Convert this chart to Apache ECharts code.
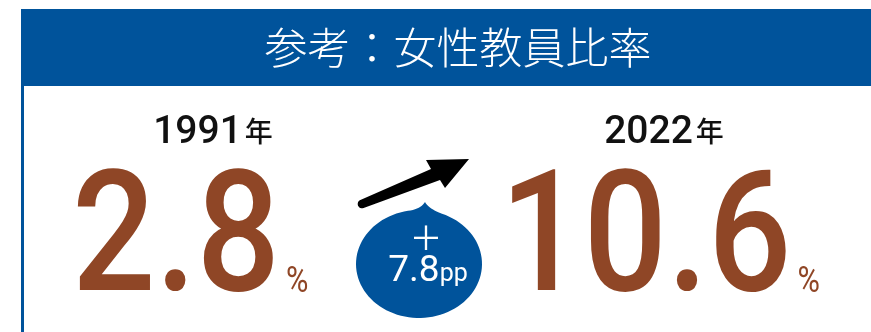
<!DOCTYPE html>
<html>
<head>
<meta charset="utf-8">
<script src="https://cdn.jsdelivr.net/npm/echarts@6/dist/echarts.min.js"></script>
<style>
  html, body { margin: 0; padding: 0; background: #ffffff; }
  #chart { width: 871px; height: 332px; }
</style>
</head>
<body>
<div id="chart"></div>
<script>
// Female teaching staff ratio, two reference years
const titleText = '参考：女性教員比率';
const years = ['1991', '2022'];
const yearSuffix = '年';
const ratios = [2.8, 10.6];
const ratioUnit = '%';
const changeUnit = 'pp';

const BLUE = '#00539B';
const BROWN = '#8F4626';
const INK = '#111111';
const NUM_FONT = 'Roboto, "Noto Sans", sans-serif';
const JP_FONT = '"Noto Sans CJK JP", "Noto Sans CJK SC", sans-serif';

const measureCtx = document.createElement('canvas').getContext('2d');
function textWidth(str, size, family, weight) {
  measureCtx.font = (weight || 'normal') + ' ' + size + 'px ' + family;
  return measureCtx.measureText(str).width;
}

// column layout
const colYearCenter = [213, 664];
const colNumLeft = [72, 500];
const numSize = 169, numScaleX = 0.87, numBaseline = 292;
const pctSize = 36;
const yearSize = 39, suffixSize = 28, yearBaseline = 143;

// distance from the 'middle' line down to the baseline, in em
const K_NUM = 0.26, K_JP = 0.436;
const midFromBaseline = (base, size, k) => base - k * size;

const elements = [];

// header banner
elements.push({ type: 'rect', shape: { x: 21, y: 9, width: 850, height: 77 }, style: { fill: BLUE } });
elements.push({ type: 'rect', shape: { x: 21, y: 86, width: 3, height: 246 }, style: { fill: BLUE } });
elements.push({
  type: 'text', x: 458, y: 48,
  style: { text: titleText, fill: '#ffffff', fontSize: 43, fontFamily: JP_FONT, fontWeight: 300,
           align: 'center', verticalAlign: 'middle' }
});

// year headings and ratio figures
years.forEach((yr, i) => {
  const yw = textWidth(yr, yearSize, NUM_FONT, 500);
  const sw = textWidth(yearSuffix, suffixSize, JP_FONT, 500);
  const gap = 3;
  const left = colYearCenter[i] - (yw + gap + sw) / 2;
  elements.push({
    type: 'text', x: left, y: midFromBaseline(yearBaseline, yearSize, K_NUM),
    style: { text: yr, fill: INK, fontSize: yearSize, fontFamily: NUM_FONT, fontWeight: 500,
             align: 'left', verticalAlign: 'middle' }
  });
  elements.push({
    type: 'text', x: left + yw + gap, y: midFromBaseline(yearBaseline + 1, suffixSize, K_JP),
    style: { text: yearSuffix, fill: INK, fontSize: suffixSize, fontFamily: JP_FONT, fontWeight: 500,
             align: 'left', verticalAlign: 'middle' }
  });

  const numStr = ratios[i].toFixed(1);
  const nw = textWidth(numStr, numSize, NUM_FONT, 500) * numScaleX;
  elements.push({
    type: 'text', x: colNumLeft[i], y: midFromBaseline(numBaseline, numSize, K_NUM), scaleX: numScaleX,
    style: { text: numStr, fill: BROWN, fontSize: numSize, fontFamily: NUM_FONT, fontWeight: 500,
             align: 'left', verticalAlign: 'middle' }
  });
  elements.push({
    type: 'text', x: colNumLeft[i] + nw + 6, y: midFromBaseline(numBaseline, pctSize, K_NUM),
    scaleX: 0.85,
    style: { text: ratioUnit, fill: BROWN, fontSize: pctSize, fontFamily: NUM_FONT, fontWeight: 400,
             align: 'left', verticalAlign: 'middle' }
  });
});

// rising arrow: rounded tail, tapered shaft, triangular head
const arrowPts = [];
const tail = [362, 204], tailR = 4.3;
const dirAng = Math.atan2(160 - 204, 469 - 362);
for (let k = 0; k <= 12; k++) {
  const a = dirAng + Math.PI / 2 + (Math.PI * k) / 12;
  arrowPts.push([tail[0] + tailR * Math.cos(a), tail[1] + tailR * Math.sin(a)]);
}
arrowPts.push([431, 169], [426, 160], [469, 159], [445, 188], [440, 180]);
elements.push({ type: 'polygon', shape: { points: arrowPts }, style: { fill: '#000000' } });

// change bubble: ellipse with a small pointed top
const bcx = 419, bcy = 264, brx = 63, bry = 54;
const tip = [425, 202];
const bubblePts = [];
const xL = 408, xR = 442;
const yAt = x => bcy - bry * Math.sqrt(1 - Math.pow((x - bcx) / brx, 2));
const a0 = Math.atan2((yAt(xR) - bcy) / bry, (xR - bcx) / brx);
const a1 = Math.atan2((yAt(xL) - bcy) / bry, (xL - bcx) / brx) + Math.PI * 2;
const steps = 90;
for (let k = 0; k <= steps; k++) {
  const t = a0 + (a1 - a0) * k / steps;
  bubblePts.push([bcx + brx * Math.cos(t), bcy + bry * Math.sin(t)]);
}
const quad = (p0, c, p1, n) => {
  const out = [];
  for (let k = 1; k <= n; k++) {
    const t = k / n;
    out.push([(1 - t) * (1 - t) * p0[0] + 2 * (1 - t) * t * c[0] + t * t * p1[0],
              (1 - t) * (1 - t) * p0[1] + 2 * (1 - t) * t * c[1] + t * t * p1[1]]);
  }
  return out;
};
bubblePts.push(...quad([xL, yAt(xL)], [421, 209], tip, 10));
bubblePts.push(...quad(tip, [429, 209], [xR, yAt(xR)], 10));
elements.push({ type: 'polygon', shape: { points: bubblePts }, style: { fill: BLUE } });

const change = (ratios[1] - ratios[0]).toFixed(1);
elements.push({
  type: 'text', x: 426, y: 237,
  style: { text: '＋', fill: '#ffffff', fontSize: 33, fontFamily: JP_FONT, fontWeight: 400,
           align: 'center', verticalAlign: 'middle' }
});
const cSize = 37, uSize = 25;
const cw = textWidth(change, cSize, NUM_FONT, 400);
const uw = textWidth(changeUnit, uSize, NUM_FONT, 400);
const cLeft = 428 - (cw + uw) / 2;
elements.push({
  type: 'text', x: cLeft, y: midFromBaseline(281, cSize, K_NUM),
  style: { text: change, fill: '#ffffff', fontSize: cSize, fontFamily: NUM_FONT, fontWeight: 400,
           align: 'left', verticalAlign: 'middle' }
});
elements.push({
  type: 'text', x: cLeft + cw, y: midFromBaseline(281, uSize, K_NUM),
  style: { text: changeUnit, fill: '#ffffff', fontSize: uSize, fontFamily: NUM_FONT, fontWeight: 400,
           align: 'left', verticalAlign: 'middle' }
});

const chart = echarts.init(document.getElementById('chart'), null, { renderer: 'canvas' });
chart.setOption({
  backgroundColor: '#ffffff',
  animation: false,
  graphic: { elements: elements }
});
</script>
</body>
</html>
